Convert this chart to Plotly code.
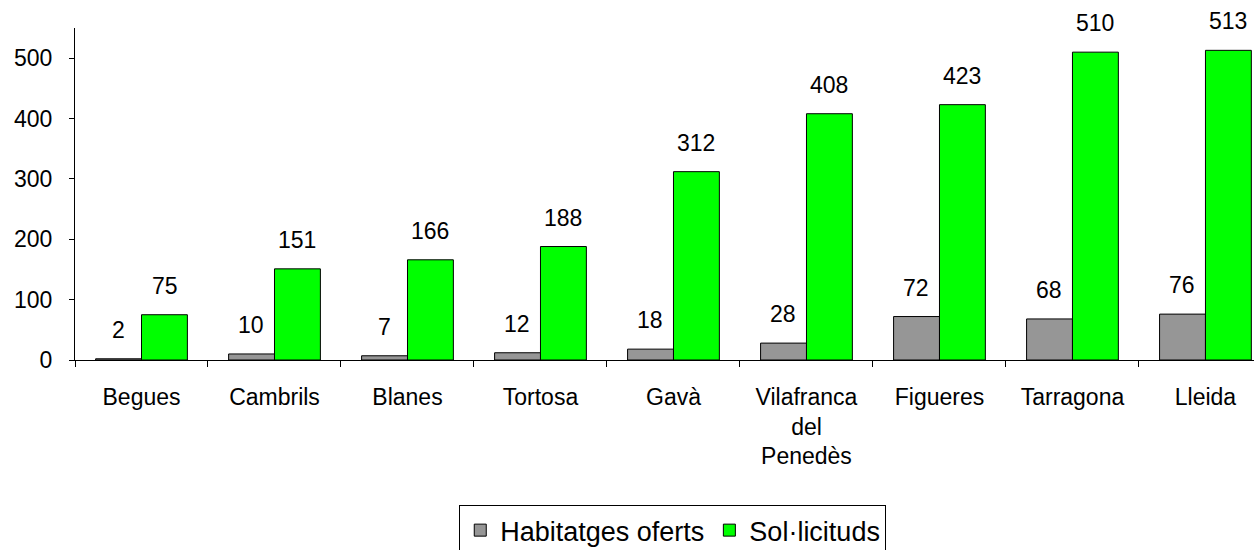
import plotly.graph_objects as go

categories = ["Begues", "Cambrils", "Blanes", "Tortosa", "Gavà",
              "Vilafranca<br>del<br>Penedès", "Figueres", "Tarragona", "Lleida"]
habitatges = [2, 10, 7, 12, 18, 28, 72, 68, 76]
sollicituds = [75, 151, 166, 188, 312, 408, 423, 510, 513]
y_ticks = [0, 100, 200, 300, 400, 500]

FONT = "Liberation Sans, Arial, sans-serif"
FS = 23

fig = go.Figure()
fig.add_trace(go.Bar(x=categories, y=habitatges, name="Habitatges oferts",
                     marker=dict(color="#969696", line=dict(color="black", width=1))))
fig.add_trace(go.Bar(x=categories, y=sollicituds, name="Sol·licituds",
                     marker=dict(color="#00ff00", line=dict(color="black", width=1))))

for i, (h, s) in enumerate(zip(habitatges, sollicituds)):
    fig.add_annotation(x=i, y=h, text=str(h), showarrow=False, xshift=-23,
                       yanchor="bottom", yshift=14, font=dict(size=FS, color="black", family=FONT))
    fig.add_annotation(x=i, y=s, text=str(s), showarrow=False, xshift=23,
                       yanchor="bottom", yshift=14, font=dict(size=FS, color="black", family=FONT))

fig.update_layout(
    width=1254, height=550,
    margin=dict(l=75, r=0, t=28, b=190, autoexpand=False),
    plot_bgcolor="white", paper_bgcolor="white",
    barmode="group", bargap=0.31, bargroupgap=0,
    font=dict(family=FONT, color="black", size=FS),
    showlegend=True,
    legend=dict(orientation="h", x=0.507, xanchor="center", y=-0.437, yanchor="top",
                bordercolor="black", borderwidth=1, font=dict(size=27),
                tracegroupgap=0),
    xaxis=dict(range=[-0.5, 8.365], showline=True, linecolor="black", linewidth=1,
               ticks="outside", tickson="boundaries", ticklen=6, tickcolor="black",
               ticklabelstandoff=16, tickfont=dict(size=FS)),
    yaxis=dict(range=[0, 550], tickvals=y_ticks, showline=True, linecolor="black", linewidth=1,
               ticks="outside", ticklen=5, tickcolor="black", showgrid=False, zeroline=False,
               ticklabelstandoff=12, tickfont=dict(size=FS)),
)

fig.write_html("out.html", config={"displayModeBar": False},
               post_script="document.body.style.margin='0';document.body.style.overflow='hidden';")
